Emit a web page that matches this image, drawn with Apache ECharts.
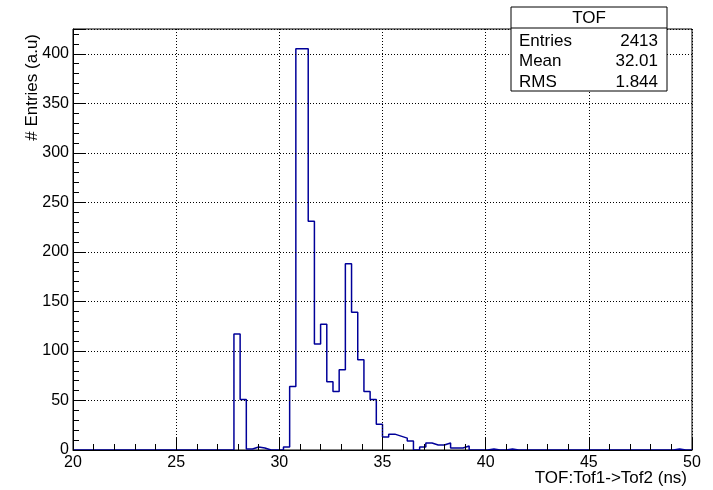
<!DOCTYPE html>
<html>
<head>
<meta charset="utf-8">
<script src="https://cdn.jsdelivr.net/npm/echarts@6/dist/echarts.min.js"></script>
<style>
  html, body { margin: 0; padding: 0; background: #fff; }
  #main { width: 713px; height: 490px; }
</style>
</head>
<body>
<div id="main"></div>
<script>
// histogram definition: 100 bins from 20 to 50 ns
var xMin = 20;
var xMax = 50;
var binWidth = 0.3;

// bin contents (bin 0 = 20.0-20.3 ns)
var binValues = [
    0, 0, 0, 0, 0, 0, 0, 0, 0, 0,
    0, 0, 0, 0, 0, 0, 0, 0, 0, 0,
    0, 0, 0, 0, 0, 0, 117, 51, 1, 3,
    2, 0, 0, 0, 3, 64, 405, 405, 231, 107,
    127, 69, 59, 81, 188, 139, 91, 59, 51, 26,
    13, 16, 14, 12, 9, 0, 3, 7, 5, 5,
    7, 2, 2, 4, 0, 0, 0, 1, 0, 0,
    1, 0, 0, 0, 0, 0, 0, 0, 0, 0,
    0, 0, 0, 0, 0, 0, 0, 0, 0, 0,
    0, 0, 0, 0, 0, 0, 0, 1, 0, 0
];

var statsTitle = 'TOF';
var statsNames = ['Entries', 'Mean', 'RMS'];
var statsValues = ['2413', '32.01', '1.844'];

var xTitle = 'TOF:Tof1->Tof2 (ns)';
var yTitle = '# Entries (a.u)';

function createChart() {
    var chartDom = document.getElementById('main');
    var myChart = echarts.init(chartDom);
    var option;

    // step points at the low edge of every bin, plus the closing edge
    var stepData = binValues.map(function (v, i) {
        return [xMin + i * binWidth, v];
    });
    stepData.push([xMax, binValues[binValues.length - 1]]);

    var font = 'Liberation Sans, Arial, sans-serif';
    var gridLine = { show: true, lineStyle: { color: '#000', width: 1, type: [1, 2] } };

    // stats box
    var box = { x: 511, y: 7, w: 156, h: 84, head: 21 };
    var graphics = [
        {
            type: 'rect', z: 100,
            shape: { x: box.x, y: box.y, width: box.w, height: box.h },
            style: { fill: '#fff', stroke: '#000', lineWidth: 1 }
        },
        {
            type: 'line', z: 101,
            shape: { x1: box.x, y1: box.y + box.head, x2: box.x + box.w, y2: box.y + box.head },
            style: { stroke: '#000', lineWidth: 1 }
        },
        {
            type: 'text', z: 101, x: box.x + box.w / 2, y: box.y + box.head / 2 + 1,
            style: { text: statsTitle, font: '17px ' + font, fill: '#000', align: 'center', verticalAlign: 'middle' }
        },
        {
            type: 'text', x: 32, y: 34, rotation: Math.PI / 2,
            style: { text: yTitle, font: '17px ' + font, fill: '#000', align: 'right', verticalAlign: 'middle' }
        },
        {
            type: 'text', x: 687, y: 478,
            style: { text: xTitle, font: '17px ' + font, fill: '#000', align: 'right', verticalAlign: 'middle' }
        }
    ];
    statsNames.forEach(function (name, k) {
        var rowY = 41 + k * 20.5;
        graphics.push({
            type: 'text', z: 101, x: box.x + 8, y: rowY,
            style: { text: name, font: '17px ' + font, fill: '#000', align: 'left', verticalAlign: 'middle' }
        });
        graphics.push({
            type: 'text', z: 101, x: box.x + box.w - 9, y: rowY,
            style: { text: statsValues[k], font: '17px ' + font, fill: '#000', align: 'right', verticalAlign: 'middle' }
        });
    });

    option = {
        animation: false,
        backgroundColor: '#fff',
        grid: {
            left: 73, right: 21, top: 29, bottom: 40,
            show: true, borderColor: '#000', borderWidth: 1, backgroundColor: 'transparent'
        },
        xAxis: {
            type: 'value',
            min: xMin,
            max: xMax,
            interval: 5,
            z: 10,
            axisLine: { show: true, onZero: false, lineStyle: { color: '#000', width: 1 } },
            axisTick: { show: true, inside: true, length: 12, lineStyle: { color: '#000' } },
            minorTick: { show: true, splitNumber: 5, length: 6, lineStyle: { color: '#000' } },
            axisLabel: { color: '#000', fontSize: 16, fontFamily: font, margin: 5 },
            splitLine: gridLine
        },
        yAxis: {
            type: 'value',
            min: 0,
            max: 425,
            interval: 50,
            z: 10,
            axisLine: { show: true, lineStyle: { color: '#000', width: 1 } },
            axisTick: { show: true, inside: true, length: 12, lineStyle: { color: '#000' } },
            minorTick: { show: true, splitNumber: 5, length: 6, lineStyle: { color: '#000' } },
            axisLabel: { color: '#000', fontSize: 16, fontFamily: font, margin: 4, showMaxLabel: false },
            splitLine: gridLine
        },
        series: [
            {
                name: 'TOF',
                type: 'line',
                step: 'end',
                symbol: 'none',
                data: stepData,
                lineStyle: { color: '#000099', width: 1.5 }
            }
        ],
        graphic: graphics
    };

    option && myChart.setOption(option);
}

createChart();
</script>
</body>
</html>
